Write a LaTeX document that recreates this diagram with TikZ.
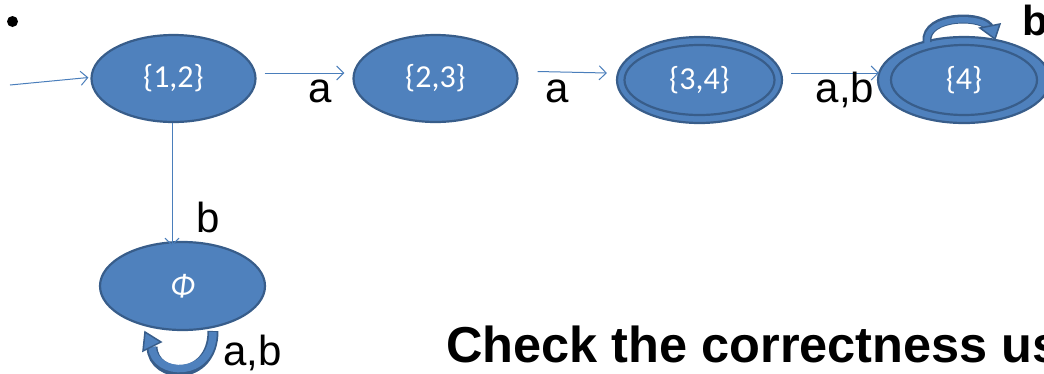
\documentclass[tikz,border=0pt]{standalone}
\usepackage{fontspec}
\setmainfont{Liberation Sans}
\newfontfamily\calfont{Carlito}
\usetikzlibrary{arrows.meta,shapes.geometric}
\definecolor{stfill}{HTML}{4F81BD}
\definecolor{stline}{HTML}{385D8A}
\definecolor{arr}{HTML}{4A7EBB}
\tikzset{
  state/.style={ellipse, fill=stfill, draw=stline, line width=2.2pt, inner sep=0pt,
    text=white, font=\calfont\fontsize{32}{32}\selectfont},
  acc/.style={draw=stline, line width=2.2pt},
  trans/.style={draw=arr, line width=1pt, -{Straight Barb[length=7pt,width=14pt,line width=1pt]}},
  lbl/.style={font=\fontsize{42}{42}\selectfont, inner sep=0pt, anchor=base},
  blbl/.style={font=\bfseries\fontsize{42}{42}\selectfont, inner sep=0pt, anchor=base west},
}
\begin{document}
\begin{tikzpicture}[x=1pt,y=-1pt]
\useasboundingbox (0,0) rectangle (1044,373);
\clip (0,0) rectangle (1044,373);
% bullet
\fill (12.5,21.5) circle (5.5);
% states
\node[state, minimum width=164pt, minimum height=87pt] (n12) at (173.5,78.5) {\{1,2\}};
\node[state, minimum width=164pt, minimum height=87pt] (n23) at (435.5,78.5) {\{2,3\}};
\node[state, minimum width=165pt, minimum height=86pt] (n34) at (699.5,80) {\{3,4\}};
\draw[acc] (n34.center) ellipse [x radius=75, y radius=35];
\node[state, minimum width=172pt, minimum height=86pt] (n4) at (964,80) {\{4\}};
\draw[acc] (n4.center) ellipse [x radius=73, y radius=35];
\node[state, minimum width=165pt, minimum height=88pt] (phi) at (182.5,286) {\textit{Φ}};
% initial
\coordinate (start) at (10,85);
\draw[trans] (start) -- ([shift={(-2,-1)}]n12.west);
% transitions
\draw[trans] ([shift={(8,-5.5)}]n12.east) -- ([shift={(-8,-5.5)}]n23.west);
\node[lbl] (la1) at (320.5,102) {a};
\draw[trans] ([shift={(19,-7)}]n23.east) -- ([shift={(-9,-7)}]n34.west);
\node[lbl] (la2) at (557.5,102) {a};
\draw[trans] ([shift={(8,-7)}]n34.east) -- ([shift={(2,-7)}]n4.west);
\node[lbl] (lab) at (845,102) {a,b};
\draw[trans] ([xshift=-1.5pt]n12.south) -- ([xshift=-10.5pt,yshift=-5pt]phi.north);
\node[lbl] (lb) at (208,232) {b};
% self loop on {4}
\draw[stline, line width=9pt] ([xshift=-37pt,yshift=-6pt]n4.north) .. controls (924,14) and (986,14) .. (990,29);
\draw[stfill, line width=5.5pt] ([xshift=-37pt,yshift=-7pt]n4.north) .. controls (924,15) and (985,15) .. (989,29);
\fill[stfill, draw=stline, line width=1.5pt] (980,28) -- (1000,24) -- (995,39) -- cycle;
\node[blbl] (lb4) at (1022,35) {b};
% self loop on phi
\draw[stline, line width=11pt] (213,331) .. controls (213,382) and (153,380) .. (152,347);
\draw[stfill, line width=7.5pt] (213,332) .. controls (213,379) and (154,377) .. (152,347);
\fill[stfill, draw=stline, line width=1.5pt] (143,351) -- (145,332) -- (161,342) -- cycle;
\node[lbl, anchor=base west] (lphi) at (223,365) {a,b};
% caption
\node[font=\bfseries\fontsize{50.5}{50.5}\selectfont, inner sep=0pt, anchor=base west] (check) at (446,362) {Check the correctness us};
\end{tikzpicture}
\end{document}
